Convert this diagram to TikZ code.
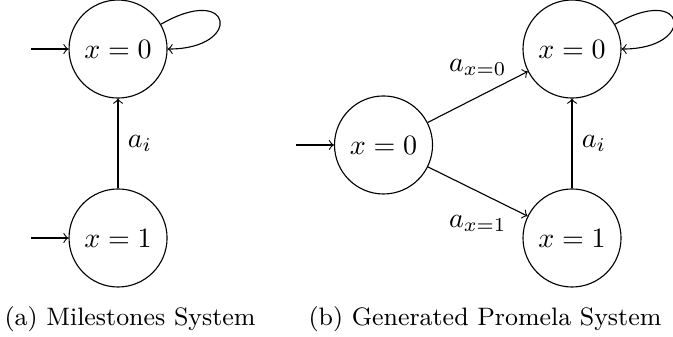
\documentclass[tikz,border=0pt]{standalone}
\usepackage{amsmath,amssymb}
\usepackage{tikz}
\usetikzlibrary{positioning}
\tikzset{
  ms state/.style={draw, circle, minimum size=1.23cm, inner sep=0pt},
  ms arrow/.style={->},
  ms loop/.style={out=30, in=0, out distance=1.05cm, in distance=0.95cm},
  ms caption/.style={font=\small, anchor=base}
}
\begin{document}
\begin{tikzpicture}
\useasboundingbox (0,0) rectangle (8.444,-4.216);
\node[ms state] (m0) at (1.481,-0.615) {$x=0$};
\node[ms state] (m1) at (1.481,-2.986) {$x=1$};
\coordinate[left=0.47cm of m0] (m0in);
\coordinate[left=0.47cm of m1] (m1in);
\draw[ms arrow] (m0in) -- (m0);
\draw[ms arrow] (m1in) -- (m1);
\draw[ms arrow] (m1) -- node[right] {$a_i$} (m0);
\draw[ms arrow] (m0) to[ms loop] (m0);
\node[ms caption] (capA) at (1.631,-4.09) {(a) Milestones System};
\node[ms state] (p) at (4.812,-1.819) {$x=0$};
\node[ms state] (p0) at (7.177,-0.615) {$x=0$};
\node[ms state] (p1) at (7.177,-2.986) {$x=1$};
\coordinate[left=0.47cm of p] (pin);
\draw[ms arrow] (pin) -- (p);
\draw[ms arrow] (p) -- node[above=4pt] {$a_{x=0}$} (p0);
\draw[ms arrow] (p) -- node[below=5pt] {$a_{x=1}$} (p1);
\draw[ms arrow] (p1) -- node[right] {$a_i$} (p0);
\draw[ms arrow] (p0) to[ms loop] (p0);
\node[ms caption] (capB) at (6.085,-4.09) {(b) Generated Promela System};
\end{tikzpicture}
\end{document}
